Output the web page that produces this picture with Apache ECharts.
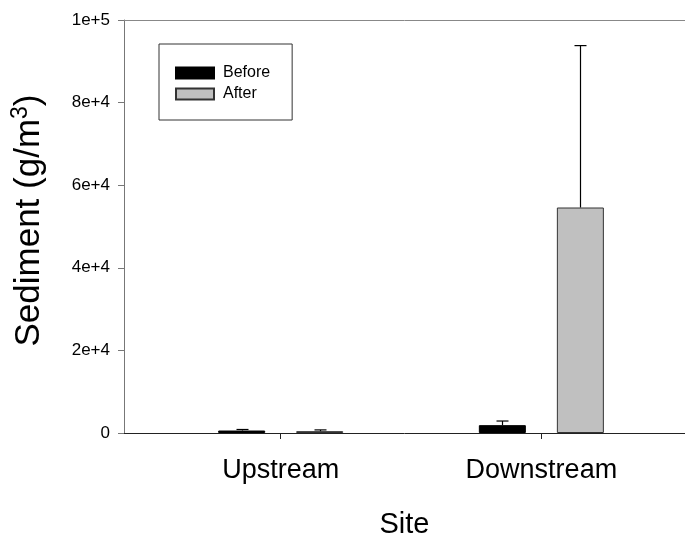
<!DOCTYPE html>
<html>
<head>
<meta charset="utf-8">
<script src="https://cdn.jsdelivr.net/npm/echarts@6/dist/echarts.min.js"></script>
<style>
  html, body { margin: 0; padding: 0; background: #fff; }
  #chart { width: 685px; height: 537px; }
</style>
</head>
<body>
<div id="chart"></div>
<script>
// data
const sites = ['Upstream', 'Downstream'];
const sitePos = [0, 1];
const beforeMean = [600, 1900];
const beforeErr = [250, 1000];
const afterMean = [450, 54600];
const afterErr = [300, 39200];

const BAR_W = 47;
const BAR_GAP = 31;
const SHIFT = (BAR_W + BAR_GAP) / 2;
const FONT = '"Liberation Sans", Arial, sans-serif';

const chart = echarts.init(document.getElementById('chart'));

function errorBars(mean, err, shift) {
  return {
    type: 'custom',
    xAxisIndex: 0,
    yAxisIndex: 0,
    silent: true,
    z: 5,
    data: sitePos.map((x, i) => [x, mean[i], err[i]]),
    renderItem: function (params, api) {
      const x = api.value(0), y = api.value(1), e = api.value(2);
      const p0 = api.coord([x, y]);
      const p1 = api.coord([x, y + e]);
      const cx = Math.round(p0[0] + shift) + 0.5;
      const style = { stroke: '#000', lineWidth: 1.2 };
      return {
        type: 'group',
        children: [
          { type: 'line', shape: { x1: cx, y1: p0[1], x2: cx, y2: p1[1] }, style: style },
          { type: 'line', shape: { x1: cx - 6, y1: p1[1], x2: cx + 6, y2: p1[1] }, style: style }
        ]
      };
    }
  };
}

const option = {
  animation: false,
  backgroundColor: '#fff',
  textStyle: { fontFamily: FONT },
  grid: { left: 124, right: 0, top: 20, bottom: 104, containLabel: false, outerBoundsMode: 'none' },
  legend: {
    orient: 'vertical',
    left: 159,
    top: 44,
    padding: [21, 22, 18, 16],
    itemWidth: 38,
    itemHeight: 11,
    itemGap: 5,
    borderColor: '#333',
    borderWidth: 1,
    icon: 'rect',
    textStyle: { fontSize: 16, color: '#000', fontFamily: FONT, padding: [0, 0, 0, 4] },
    data: ['Before', 'After']
  },
  xAxis: [{
    type: 'value',
    min: -0.601,
    max: 1.551,
    name: 'Site',
    nameLocation: 'middle',
    nameGap: 77,
    nameTextStyle: { fontSize: 29, color: '#000', fontFamily: FONT },
    splitLine: { show: false },
    axisLine: { show: true, onZero: false, lineStyle: { color: '#222', width: 1 } },
    axisTick: {
      show: true, inside: false, length: 6, customValues: sitePos,
      lineStyle: { color: '#222' }
    },
    axisLabel: {
      customValues: sitePos,
      margin: 24,
      fontSize: 27,
      color: '#000',
      fontFamily: FONT,
      formatter: v => sites[Math.round(v)]
    }
  }, {
    type: 'value',
    position: 'top',
    min: -0.601,
    max: 1.551,
    splitLine: { show: false },
    axisLine: { show: true, onZero: false, lineStyle: { color: '#888', width: 1 } },
    axisTick: { show: false },
    axisLabel: { show: false }
  }],
  yAxis: {
    type: 'value',
    min: 0,
    max: 100000,
    interval: 20000,
    name: 'Sediment (g/m{sup|3})',
    nameLocation: 'middle',
    nameGap: 75,
    nameRotate: 90,
    nameTextStyle: {
      fontSize: 35, color: '#000', fontFamily: FONT,
      padding: [0, 0, 0, 12],
      rich: { sup: { fontSize: 23, verticalAlign: 'top', padding: [0, 0, 17, 0], color: '#000', fontFamily: FONT } }
    },
    splitLine: { show: false },
    axisLine: { show: true, onZero: false, lineStyle: { color: '#777', width: 1 } },
    axisTick: { show: true, inside: false, length: 6, lineStyle: { color: '#777' } },
    axisLabel: {
      margin: 14,
      fontSize: 17,
      color: '#000',
      fontFamily: FONT,
      formatter: v => (v === 0 ? '0' : v.toExponential(0))
    }
  },
  series: [{
    name: 'Before',
    type: 'bar',
    barWidth: BAR_W,
    barGap: (BAR_GAP / BAR_W * 100).toFixed(0) + '%',
    itemStyle: { color: '#000', borderColor: '#000', borderWidth: 1 },
    data: sitePos.map((x, i) => [x, beforeMean[i]])
  }, {
    name: 'After',
    type: 'bar',
    barWidth: BAR_W,
    itemStyle: { color: '#c0c0c0', borderColor: '#333', borderWidth: 1 },
    data: sitePos.map((x, i) => [x, afterMean[i]])
  },
  errorBars(beforeMean, beforeErr, -SHIFT),
  errorBars(afterMean, afterErr, SHIFT)]
};

chart.setOption(option);
</script>
</body>
</html>
